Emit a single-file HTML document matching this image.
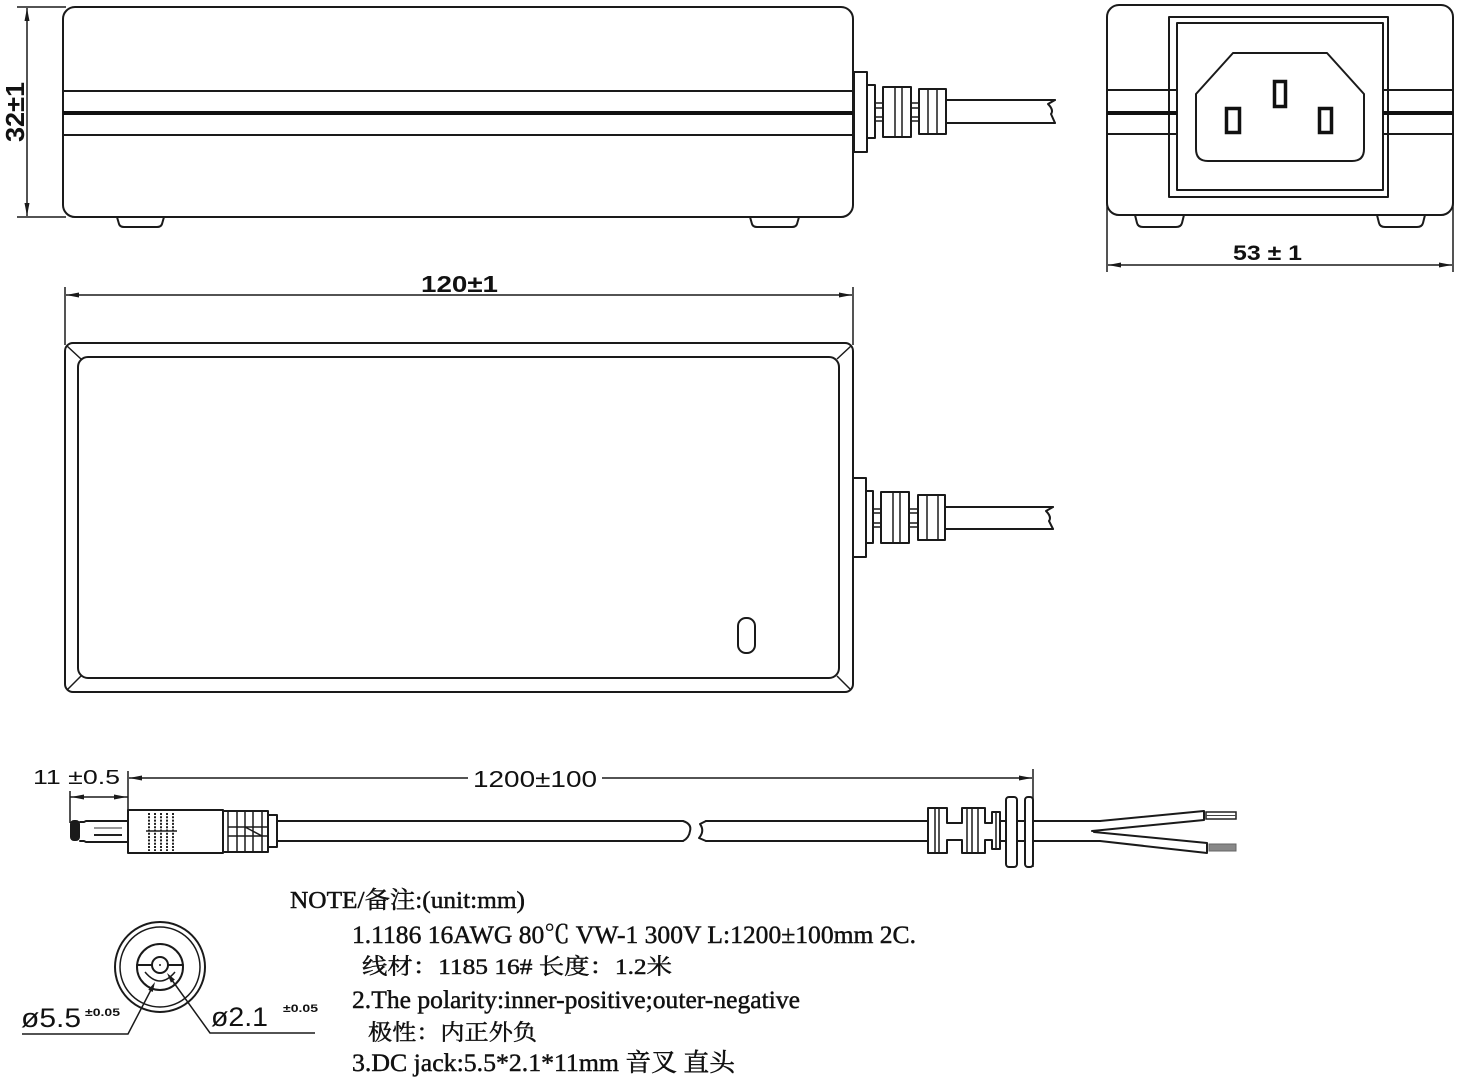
<!DOCTYPE html>
<html><head><meta charset="utf-8">
<style>
html,body{margin:0;padding:0;background:#fff;}
svg{display:block;}
.s{fill:none;stroke:#1a1a1a;stroke-width:2;stroke-linejoin:round;stroke-linecap:round;}
.t{fill:none;stroke:#1a1a1a;stroke-width:1.5;}
.k{fill:#1a1a1a;stroke:none;}
.lab{font-family:"Liberation Sans",sans-serif;fill:#111;}
.note{font-family:"Liberation Serif","Noto Serif CJK SC",serif;fill:#111;stroke:#111;stroke-width:0.45;}
</style></head>
<body>
<svg width="1464" height="1088" viewBox="0 0 1464 1088" xmlns="http://www.w3.org/2000/svg">
<rect x="0" y="0" width="1464" height="1088" fill="#fff"/>

<!-- ============ SIDE VIEW (top-left) ============ -->
<line class="t" x1="17" y1="7" x2="66" y2="7"/>
<line class="t" x1="17" y1="217" x2="66" y2="217"/>
<line class="t" x1="27" y1="8" x2="27" y2="216"/>
<polygon class="k" points="27,8 24.5,21 29.5,21"/>
<polygon class="k" points="27,216 24.5,203 29.5,203"/>
<text class="lab" font-weight="bold" font-size="26" transform="translate(24,142) rotate(-90)" textLength="60" lengthAdjust="spacingAndGlyphs">32±1</text>

<path class="s" d="M75,7 H841 A12,12 0 0 1 853,19 V205 A12,12 0 0 1 841,217 H75 A12,12 0 0 1 63,205 V19 A12,12 0 0 1 75,7 Z"/>
<line class="s" x1="63" y1="91" x2="853" y2="91"/>
<line x1="63" y1="113" x2="853" y2="113" stroke="#111" stroke-width="4"/>
<line class="s" x1="63" y1="135" x2="853" y2="135"/>
<path class="s" d="M117,217 L119,224 Q120,227 124,227 H157 Q161,227 162,224 L164,217"/>
<path class="s" d="M750,217 L752,224 Q753,227 757,227 H792 Q796,227 797,224 L799,217"/>

<!-- strain relief side -->
<rect class="s" x="854" y="72" width="13" height="80"/>
<rect class="s" x="867" y="85" width="8" height="53"/>
<rect class="s" x="883" y="87" width="28" height="50"/>
<line class="t" x1="895" y1="87" x2="895" y2="137"/>
<line class="t" x1="902" y1="87" x2="902" y2="137"/>
<rect class="s" x="919" y="89" width="27" height="45"/>
<line class="t" x1="928" y1="89" x2="928" y2="134"/>
<line class="t" x1="937" y1="89" x2="937" y2="134"/>
<path class="t" d="M875,103 H883 M875,108 H883 M875,117 H883 M875,121 H883 M911,103 H919 M911,108 H919 M911,117 H919 M911,121 H919"/>
<line class="s" x1="946" y1="100" x2="1055" y2="100"/>
<line class="s" x1="946" y1="123" x2="1055" y2="123"/>
<path class="s" d="M1055,100 L1048,104 Q1054,110 1051,114 L1055,123"/>

<!-- ============ END VIEW (top-right) ============ -->
<path class="s" d="M1119,5 H1441 A12,12 0 0 1 1453,17 V203 A12,12 0 0 1 1441,215 H1119 A12,12 0 0 1 1107,203 V17 A12,12 0 0 1 1119,5 Z"/>
<line class="t" x1="1107" y1="203" x2="1107" y2="272"/>
<line class="t" x1="1453" y1="203" x2="1453" y2="272"/>
<line class="t" x1="1108" y1="265" x2="1452" y2="265"/>
<polygon class="k" points="1108,265 1121,262.5 1121,267.5"/>
<polygon class="k" points="1452,265 1439,262.5 1439,267.5"/>
<text class="lab" font-weight="bold" font-size="21" x="1233" y="260" textLength="69" lengthAdjust="spacingAndGlyphs">53 ± 1</text>

<rect class="s" x="1169" y="17" width="219" height="180"/>
<rect class="s" x="1177" y="23" width="206" height="167"/>
<line class="s" x1="1107" y1="90" x2="1177" y2="90"/>
<line x1="1107" y1="113" x2="1177" y2="113" stroke="#111" stroke-width="4"/>
<line class="s" x1="1107" y1="134" x2="1177" y2="134"/>
<line class="s" x1="1383" y1="90" x2="1453" y2="90"/>
<line x1="1383" y1="113" x2="1453" y2="113" stroke="#111" stroke-width="4"/>
<line class="s" x1="1383" y1="134" x2="1453" y2="134"/>

<path class="s" d="M1233,53 H1327 L1364,94 V149 Q1364,161 1352,161 H1208 Q1196,161 1196,149 V94 Z"/>
<rect x="1274.5" y="81.5" width="11" height="25" fill="#fff" stroke="#111" stroke-width="3.5"/>
<rect x="1226.5" y="108.5" width="13" height="24" fill="#fff" stroke="#111" stroke-width="3.5"/>
<rect x="1319.5" y="108.5" width="12" height="24" fill="#fff" stroke="#111" stroke-width="3.5"/>

<path class="s" d="M1135,215 L1137,223 Q1138,227 1143,227 H1176 Q1181,227 1182,223 L1184,215"/>
<path class="s" d="M1377,215 L1379,223 Q1380,227 1385,227 H1417 Q1422,227 1423,223 L1425,215"/>

<!-- ============ TOP VIEW (middle) ============ -->
<line class="t" x1="65" y1="287" x2="65" y2="345"/>
<line class="t" x1="853" y1="287" x2="853" y2="345"/>
<line class="t" x1="66" y1="295" x2="852" y2="295"/>
<polygon class="k" points="66,295 79,292.5 79,297.5"/>
<polygon class="k" points="852,295 839,292.5 839,297.5"/>
<text class="lab" font-weight="bold" font-size="23" x="421" y="292" textLength="77" lengthAdjust="spacingAndGlyphs">120±1</text>

<path class="s" d="M73,343 H845 A8,8 0 0 1 853,351 V684 A8,8 0 0 1 845,692 H73 A8,8 0 0 1 65,684 V351 A8,8 0 0 1 73,343 Z"/>
<path class="s" d="M88,357 H829 A10,10 0 0 1 839,367 V668 A10,10 0 0 1 829,678 H88 A10,10 0 0 1 78,668 V367 A10,10 0 0 1 88,357 Z"/>
<path class="t" d="M67,346 L81,359 M851,346 L837,359 M67,690 L81,676 M851,690 L837,676"/>
<rect class="s" x="738" y="618" width="17" height="35" rx="8" ry="8"/>

<rect class="s" x="853" y="478" width="13" height="79"/>
<rect class="s" x="866" y="491" width="7" height="52"/>
<rect class="s" x="881" y="492" width="28" height="51"/>
<line class="t" x1="893" y1="492" x2="893" y2="543"/>
<line class="t" x1="900" y1="492" x2="900" y2="543"/>
<rect class="s" x="918" y="495" width="27" height="45"/>
<line class="t" x1="927" y1="495" x2="927" y2="540"/>
<line class="t" x1="938" y1="495" x2="938" y2="540"/>
<path class="t" d="M873,509 H881 M873,513 H881 M873,523 H881 M873,527 H881 M909,509 H918 M909,513 H918 M909,523 H918 M909,527 H918"/>
<line class="s" x1="945" y1="507" x2="1053" y2="507"/>
<line class="s" x1="945" y1="529" x2="1053" y2="529"/>
<path class="s" d="M1053,507 L1046,511 Q1052,517 1049,521 L1053,529"/>

<!-- ============ CABLE ============ -->
<text class="lab" font-size="20" x="33" y="784" textLength="87" lengthAdjust="spacingAndGlyphs">11 ±0.5</text>
<line class="t" x1="128" y1="771" x2="128" y2="810"/>
<line class="t" x1="129" y1="778" x2="1032" y2="778"/>
<polygon class="k" points="129,778 142,775.5 142,780.5"/>
<polygon class="k" points="1032,778 1019,775.5 1019,780.5"/>
<rect x="468" y="766" width="134" height="24" fill="#fff"/>
<text class="lab" font-size="23" x="473" y="787" textLength="124" lengthAdjust="spacingAndGlyphs">1200±100</text>
<line class="t" x1="1033" y1="769" x2="1033" y2="867"/>

<line class="t" x1="70" y1="797" x2="128" y2="797"/>
<line class="t" x1="70" y1="791" x2="70" y2="823"/>
<polygon class="k" points="71,797 84,794.5 84,799.5"/>
<polygon class="k" points="127,797 114,794.5 114,799.5"/>

<!-- plug -->
<rect class="k" x="70" y="820" width="10" height="21" rx="4"/>
<path class="s" d="M80,822 H84 L86,821 H128 M80,841 H84 L86,842 H128"/>
<line x1="94" y1="828" x2="122" y2="828" stroke="#777" stroke-width="1.5"/>
<line x1="94" y1="835" x2="122" y2="835" stroke="#222" stroke-width="2"/>
<rect class="s" x="128" y="810" width="95" height="43"/>
<g stroke="#222" stroke-width="2" stroke-dasharray="2,1.3">
<line x1="149" y1="813" x2="149" y2="851"/>
<line x1="155" y1="813" x2="155" y2="851"/>
<line x1="161" y1="813" x2="161" y2="851"/>
<line x1="167" y1="813" x2="167" y2="851"/>
<line x1="173" y1="813" x2="173" y2="851"/>
</g>
<line class="t" x1="146" y1="831" x2="177" y2="831"/>
<!-- plug rings -->
<rect class="s" x="223" y="811" width="45" height="41"/>
<path class="t" d="M228,811 V852 M237,811 V852 M245,811 V852 M253,811 V852 M262,811 V852 M228,827 H268 M228,836 H268 M245,827 L262,836"/>
<rect class="s" x="268" y="815" width="9" height="32"/>
<line class="s" x1="277" y1="821" x2="683" y2="821"/>
<line class="s" x1="277" y1="841" x2="683" y2="841"/>
<path class="s" d="M683,821 Q692,824 690,831 Q689,838 683,841"/>
<path class="s" d="M706,821 L700,824 Q705,831 699,838 L706,841"/>
<line class="s" x1="706" y1="821" x2="928" y2="821"/>
<line class="s" x1="706" y1="841" x2="928" y2="841"/>

<!-- right strain relief -->
<path class="s" d="M928,808 H947 V823 H962 V808 H985 V823 H992 V812 H1000 V849 H992 V840 H985 V853 H962 V840 H947 V853 H928 Z"/>
<path class="t" d="M935,808 V853 M939,808 V853 M967,808 V853 M972,808 V853 M978,808 V853 M996,812 V849"/>
<line class="s" x1="1000" y1="821" x2="1006" y2="821"/>
<line class="s" x1="1000" y1="841" x2="1006" y2="841"/>
<rect class="s" x="1006" y="797" width="11" height="70" rx="3"/>
<line class="s" x1="1017" y1="821" x2="1025" y2="821"/>
<line class="s" x1="1017" y1="841" x2="1025" y2="841"/>
<rect class="s" x="1025" y="797" width="8" height="70" rx="3"/>
<line class="s" x1="1033" y1="821" x2="1100" y2="821"/>
<line class="s" x1="1033" y1="841" x2="1100" y2="841"/>
<!-- split wires -->
<path class="s" d="M1100,821 L1204,811 M1092,831 L1204,820 M1204,811 V820"/>
<path class="s" d="M1094,832 L1207,843 M1100,841 L1207,853 M1207,843 V853"/>
<rect x="1206" y="812" width="30" height="7" fill="#fff" stroke="#222" stroke-width="1.5"/>
<line x1="1206" y1="815.5" x2="1236" y2="815.5" stroke="#444" stroke-width="1"/>
<rect x="1209" y="844" width="27" height="7" fill="#888" stroke="#666" stroke-width="1"/>

<!-- ============ DC JACK FRONT ============ -->
<circle class="s" cx="160" cy="967" r="45"/>
<circle class="t" cx="160" cy="967" r="40"/>
<circle class="s" cx="160" cy="967" r="23"/>
<circle class="s" cx="160" cy="965" r="8"/>
<circle class="k" cx="160" cy="965" r="1"/>
<path class="s" d="M137,965 H152 M168,965 H183"/>
<path class="t" d="M145,972 Q160,990 175,972"/>
<path class="t" d="M22,1034 H128 L153,986"/>
<polygon class="k" points="155,982 152.7,992 148.3,989.8"/>
<path class="t" d="M315,1033 H210 L169,976"/>
<polygon class="k" points="167,973 174.9,979.6 170.9,982.6"/>
<text class="lab" font-size="27" x="21" y="1027" textLength="60" lengthAdjust="spacingAndGlyphs">ø5.5</text>
<text class="lab" font-size="11" font-weight="bold" x="85" y="1016" textLength="35" lengthAdjust="spacingAndGlyphs">±0.05</text>
<text class="lab" font-size="27" x="211" y="1026" textLength="57" lengthAdjust="spacingAndGlyphs">ø2.1</text>
<text class="lab" font-size="11" font-weight="bold" x="283" y="1012" textLength="35" lengthAdjust="spacingAndGlyphs">±0.05</text>

<!-- ============ NOTES ============ -->
<text class="note" font-size="24" x="290" y="908" textLength="235" lengthAdjust="spacingAndGlyphs">NOTE/备注:(unit:mm)</text>
<text class="note" font-size="25" x="352" y="943" textLength="564" lengthAdjust="spacingAndGlyphs">1.1186 16AWG 80℃ VW-1 300V L:1200±100mm 2C.</text>
<text class="note" font-size="22" x="362" y="974" textLength="310" lengthAdjust="spacingAndGlyphs">线材：1185 16#  长度：1.2米</text>
<text class="note" font-size="25" x="352" y="1008" textLength="448" lengthAdjust="spacingAndGlyphs">2.The polarity:inner-positive;outer-negative</text>
<text class="note" font-size="22" x="368" y="1040" textLength="169" lengthAdjust="spacingAndGlyphs">极性：内正外负</text>
<text class="note" font-size="25" x="352" y="1071" textLength="383" lengthAdjust="spacingAndGlyphs">3.DC jack:5.5*2.1*11mm  音叉 直头</text>
</svg>
</body></html>
